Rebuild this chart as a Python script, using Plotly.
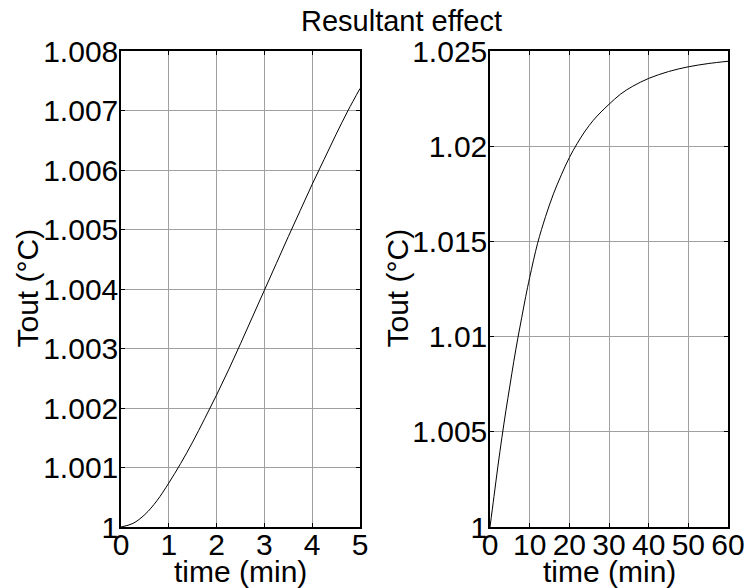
import plotly.graph_objects as go

# Left panel: first 5 minutes
t_short = [0, 0.25, 0.5, 0.75, 1, 1.25, 1.5, 1.75, 2, 2.25, 2.5, 2.75, 3,
           3.25, 3.5, 3.75, 4, 4.25, 4.5, 4.75, 5]
tout_short = [1.0, 1.00006, 1.00021, 1.00044, 1.00074, 1.00107, 1.00143, 1.00182,
              1.00222, 1.00264, 1.00308, 1.00353, 1.00398, 1.00443, 1.00488,
              1.00532, 1.00576, 1.00618, 1.0066, 1.007, 1.00737]

# Right panel: 60 minutes
t_long = [0, 1, 2, 3, 4, 5, 6, 7, 8, 9, 10, 12, 14, 16, 18, 20, 22, 24, 26, 28,
          30, 33, 36, 40, 45, 50, 55, 60]
tout_long = [1.0, 1.0016, 1.0032, 1.0047, 1.0061, 1.0074, 1.0087, 1.0099, 1.0110,
             1.0121, 1.0131, 1.0149, 1.0163, 1.0175, 1.0185, 1.0194, 1.02015,
             1.0208, 1.02135, 1.0218, 1.0222, 1.02275, 1.02315, 1.02356, 1.02392,
             1.02417, 1.02434, 1.02446]

left_xticks = [0, 1, 2, 3, 4, 5]
left_yticks = [1.0, 1.001, 1.002, 1.003, 1.004, 1.005, 1.006, 1.007, 1.008]
left_ytext = ["1", "1.001", "1.002", "1.003", "1.004", "1.005", "1.006", "1.007", "1.008"]
right_xticks = [0, 10, 20, 30, 40, 50, 60]
right_yticks = [1.0, 1.005, 1.01, 1.015, 1.02, 1.025]
right_ytext = ["1", "1.005", "1.01", "1.015", "1.02", "1.025"]

title_text = "Resultant effect"
xlabel = "time (min)"
ylabel = "Tout (°C)"

FONT = "Liberation Sans, Arial, sans-serif"
FS = 30

fig = go.Figure()
fig.add_trace(go.Scatter(x=t_short, y=tout_short, mode="lines",
                         line=dict(color="black", width=1, shape="spline"),
                         xaxis="x", yaxis="y", showlegend=False))
fig.add_trace(go.Scatter(x=t_long, y=tout_long, mode="lines",
                         line=dict(color="black", width=1, shape="spline"),
                         xaxis="x2", yaxis="y2", showlegend=False))

W, H = 745, 588
lx0, lx1 = 121, 360
rx0, rx1 = 490, 728
ytop, ybot = 51, 527

common = dict(showline=True, linecolor="black", linewidth=1.5, mirror="ticks",
              ticks="inside", ticklen=4, tickcolor="black", tickwidth=1,
              showgrid=True, gridcolor="#a0a0a0", gridwidth=1, zeroline=False,
              automargin=False,
              tickfont=dict(family=FONT, size=FS, color="black"))
xcommon = dict(common, ticklabelstandoff=-10)
ycommon = dict(common, ticklabelstandoff=-5)

fig.update_layout(
    template="none",
    width=W, height=H,
    margin=dict(l=0, r=0, t=0, b=0, pad=0),
    paper_bgcolor="white", plot_bgcolor="white",
    xaxis=dict(domain=[lx0 / W, lx1 / W], range=[0, 5], tickvals=left_xticks,
               anchor="y", **xcommon),
    yaxis=dict(domain=[(H - ybot) / H, (H - ytop) / H], range=[1.0, 1.008],
               tickvals=left_yticks, ticktext=left_ytext, anchor="x", **ycommon),
    xaxis2=dict(domain=[rx0 / W, rx1 / W], range=[0, 60], tickvals=right_xticks,
                anchor="y2", **xcommon),
    yaxis2=dict(domain=[(H - ybot) / H, (H - ytop) / H], range=[1.0, 1.025],
                tickvals=right_yticks, ticktext=right_ytext, anchor="x2", **ycommon),
    annotations=[
        dict(text=title_text, x=401.5 / W, y=1 - 21 / H, xref="paper", yref="paper",
             showarrow=False, font=dict(family=FONT, size=29, color="black"),
             xanchor="center", yanchor="middle"),
        dict(text=xlabel, x=(lx0 + lx1) / 2 / W, y=1 - 571 / H, xref="paper", yref="paper",
             showarrow=False, font=dict(family=FONT, size=FS, color="black"),
             xanchor="center", yanchor="middle"),
        dict(text=xlabel, x=(rx0 + rx1) / 2 / W, y=1 - 571 / H, xref="paper", yref="paper",
             showarrow=False, font=dict(family=FONT, size=FS, color="black"),
             xanchor="center", yanchor="middle"),
        dict(text=ylabel, x=27 / W, y=1 - 288.5 / H, xref="paper", yref="paper",
             showarrow=False, textangle=-90, font=dict(family=FONT, size=FS, color="black"),
             xanchor="center", yanchor="middle"),
        dict(text=ylabel, x=397 / W, y=1 - 288.5 / H, xref="paper", yref="paper",
             showarrow=False, textangle=-90, font=dict(family=FONT, size=FS, color="black"),
             xanchor="center", yanchor="middle"),
    ],
)

fig.write_html("out.html")
